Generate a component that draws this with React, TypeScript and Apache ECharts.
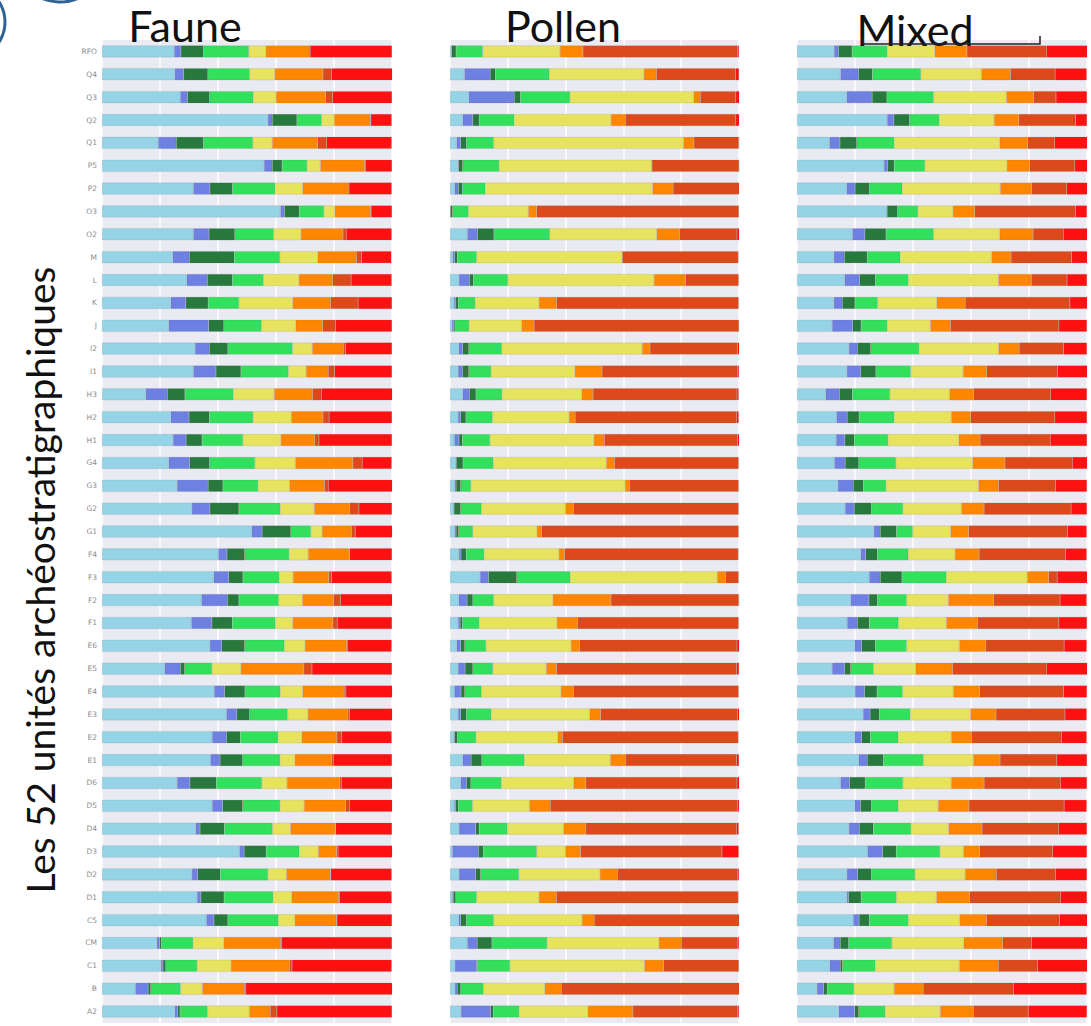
import React, { useEffect, useRef } from "react";
import * as echarts from "echarts";

const categories = [
  "RFO", "Q4", "Q3", "Q2", "Q1", "P5", "P2", "O3", "O2", "M", "L", "K", "J", "I2", "I1",
  "H3", "H2", "H1", "G4", "G3", "G2", "G1", "F4", "F3", "F2", "F1", "E6", "E5", "E4", "E3",
  "E2", "E1", "D6", "D5", "D4", "D3", "D2", "D1", "C5", "CM", "C1", "B", "A2",
];

const panelTitles = ["Faune", "Pollen", "Mixed"];
const yAxisTitle = "Les 52 unités archéostratigraphiques";

const classNames = ["c1", "c2", "c3", "c4", "c5", "c6", "c7", "c8"];
const classColors = ["#94D4E6", "#6E80E2", "#27793E", "#33E05C", "#E7E35F", "#FF8700", "#DC4A1B", "#FF1111"];

// each row: 8 class shares (%) in the category order above
const fauneRows = [
  [24.9, 2.3, 7.8, 15.6, 5.9, 15.3, 0, 28.2],
  [25.1, 3.1, 8.3, 14.4, 8.7, 16.6, 2.9, 21.0],
  [27.0, 2.5, 7.6, 15.1, 7.8, 17.1, 2.4, 20.5],
  [57.2, 1.5, 8.5, 8.5, 4.4, 12.4, 0.2, 7.2],
  [19.4, 6.2, 9.4, 17.0, 6.7, 15.7, 3.1, 22.4],
  [55.9, 2.8, 3.4, 8.6, 4.6, 15.3, 0.3, 9.1],
  [31.5, 5.7, 7.8, 14.7, 9.5, 16.0, 0, 14.7],
  [61.5, 1.4, 5.1, 8.5, 3.8, 12.3, 0.2, 7.2],
  [31.5, 5.4, 8.9, 13.4, 9.4, 14.5, 1.1, 15.7],
  [24.4, 5.7, 15.5, 15.7, 13.1, 13.3, 1.8, 10.3],
  [29.2, 7.1, 8.7, 10.7, 12.2, 11.6, 6.4, 14.0],
  [23.7, 5.2, 7.7, 10.6, 18.6, 13.0, 9.5, 11.7],
  [23.0, 13.8, 5.2, 13.0, 11.8, 9.3, 4.5, 19.4],
  [32.1, 4.9, 6.4, 22.3, 6.8, 10.7, 0.8, 16.0],
  [31.5, 7.8, 8.6, 16.4, 6.1, 7.6, 2.2, 19.8],
  [15.1, 7.4, 6.1, 16.7, 14.1, 13.2, 3.0, 24.5],
  [23.7, 6.3, 7.0, 15.1, 13.2, 10.9, 2.1, 21.7],
  [24.5, 4.5, 5.5, 14.1, 13.1, 11.6, 1.5, 25.2],
  [23.0, 7.2, 6.9, 15.6, 14.0, 19.8, 3.2, 10.2],
  [25.9, 10.7, 5.1, 12.1, 10.9, 12.0, 1.3, 22.2],
  [31.0, 6.2, 10.0, 14.3, 11.7, 12.2, 3.2, 11.4],
  [51.6, 3.6, 9.9, 6.9, 3.9, 10.1, 1.3, 12.8],
  [40.1, 3.0, 6.1, 15.3, 6.6, 14.1, 0.2, 14.6],
  [38.5, 5.2, 4.9, 12.5, 4.8, 12.3, 1.0, 20.7],
  [34.3, 8.9, 4.0, 13.7, 8.2, 10.7, 2.5, 17.8],
  [30.8, 7.1, 7.0, 14.9, 6.0, 13.8, 1.5, 18.9],
  [37.2, 4.1, 7.9, 13.7, 7.1, 14.4, 0.2, 15.3],
  [21.6, 5.4, 1.5, 9.4, 10.0, 21.7, 2.8, 27.6],
  [38.7, 3.6, 7.0, 12.2, 7.7, 14.3, 0.6, 16.0],
  [42.9, 3.6, 4.4, 13.1, 7.0, 13.8, 0.5, 14.8],
  [38.0, 4.9, 4.8, 13.0, 8.2, 12.1, 1.7, 17.2],
  [37.4, 3.3, 7.8, 12.9, 5.1, 12.6, 0.6, 20.3],
  [25.9, 4.4, 9.1, 15.7, 8.7, 18.2, 0.5, 17.6],
  [38.0, 3.6, 6.9, 12.9, 8.3, 14.3, 1.3, 14.8],
  [32.3, 1.5, 8.4, 16.6, 6.2, 15.4, 0.2, 19.4],
  [47.4, 1.6, 7.6, 11.4, 6.6, 6.3, 0.5, 18.7],
  [31.0, 2.0, 7.8, 16.4, 6.4, 15.1, 0.2, 21.0],
  [32.8, 1.3, 8.0, 16.9, 6.4, 16.2, 0.3, 18.0],
  [36.0, 2.6, 4.8, 17.4, 5.7, 14.3, 0.2, 19.0],
  [18.9, 0.9, 0.7, 10.9, 10.6, 19.5, 0.5, 38.0],
  [20.3, 0.7, 1.0, 10.8, 11.7, 20.1, 0.9, 34.4],
  [11.5, 4.4, 0.9, 10.3, 7.5, 14.5, 0.5, 50.5],
  [25.1, 1.0, 0.8, 9.5, 14.4, 7.2, 2.3, 39.7],
];

const pollenRows = [
  [0.6, 0, 1.5, 9.2, 26.8, 7.9, 53.4, 0.6],
  [5.0, 8.9, 1.8, 18.7, 32.7, 4.3, 27.4, 1.2],
  [6.5, 15.7, 2.2, 17.1, 42.8, 2.3, 12.3, 1.2],
  [4.4, 3.5, 2.2, 12.1, 33.5, 5.0, 38.2, 1.2],
  [2.3, 1.4, 2.0, 9.4, 65.7, 3.6, 15.5, 0.2],
  [3.0, 0, 1.4, 12.6, 52.9, 0, 30.1, 0],
  [1.6, 1.3, 1.4, 7.9, 57.9, 7.1, 22.9, 0],
  [0.2, 0, 0.7, 5.5, 20.7, 2.9, 69.9, 0],
  [6.0, 3.5, 5.7, 19.3, 37.0, 7.9, 19.9, 0.8],
  [0.9, 0.7, 0.9, 6.7, 50.5, 0, 40.0, 0.2],
  [3.1, 3.6, 1.4, 11.9, 50.6, 10.9, 18.3, 0.2],
  [1.4, 0.6, 0.9, 5.8, 22.1, 6.1, 62.9, 0.2],
  [0.7, 0.5, 0.5, 4.9, 18.2, 4.3, 70.9, 0.2],
  [3.0, 1.4, 2.1, 11.4, 48.6, 2.7, 30.3, 0.6],
  [2.8, 1.5, 2.2, 7.7, 29.0, 9.4, 46.8, 0.6],
  [4.4, 2.3, 2.3, 9.0, 27.6, 3.9, 49.8, 0.6],
  [2.8, 0.9, 1.8, 9.2, 26.5, 2.1, 55.8, 0.8],
  [1.5, 1.6, 1.2, 9.5, 36.0, 3.6, 46.1, 0.6],
  [2.2, 0, 2.3, 10.5, 39.1, 2.8, 42.9, 0.2],
  [1.6, 0.5, 1.6, 3.5, 53.4, 1.5, 37.7, 0.2],
  [1.4, 0, 2.3, 7.2, 29.0, 2.8, 57.1, 0.2],
  [1.6, 0.5, 0.9, 4.9, 22.2, 1.6, 68.1, 0.2],
  [3.1, 0.7, 1.8, 6.2, 25.9, 2.0, 60.0, 0.2],
  [10.4, 2.9, 9.8, 18.5, 50.9, 2.8, 4.5, 0.2],
  [3.0, 2.9, 2.0, 7.2, 20.5, 20.1, 44.2, 0.2],
  [2.8, 0.7, 0.8, 5.8, 26.9, 7.1, 55.7, 0.2],
  [2.3, 1.4, 1.4, 7.3, 29.5, 2.9, 54.5, 0.8],
  [2.8, 2.4, 2.7, 6.9, 18.5, 3.6, 62.3, 0.8],
  [1.5, 2.3, 1.3, 5.8, 27.5, 4.3, 57.1, 0.2],
  [2.8, 0.9, 2.0, 8.6, 34.0, 3.8, 47.4, 0.6],
  [1.3, 0.3, 1.0, 6.4, 28.3, 1.6, 60.8, 0.2],
  [4.4, 2.9, 3.7, 14.7, 29.8, 5.2, 38.5, 0.8],
  [3.7, 2.0, 1.5, 10.6, 25.0, 4.2, 52.3, 0.8],
  [1.5, 0.5, 0.9, 4.9, 19.7, 7.2, 64.9, 0.6],
  [3.1, 5.8, 1.2, 9.8, 19.4, 7.7, 52.1, 0.8],
  [0.8, 9.0, 1.7, 18.5, 9.9, 5.3, 48.9, 5.8],
  [3.1, 5.8, 1.7, 13.2, 28.1, 6.0, 41.5, 0.6],
  [0.8, 0.3, 0.9, 7.2, 21.6, 6.0, 62.9, 0.2],
  [3.0, 0.7, 2.0, 9.4, 30.6, 4.2, 50.2, 0],
  [6.0, 3.4, 5.1, 19.1, 38.7, 7.7, 19.4, 0.6],
  [1.7, 7.5, 0.3, 11.2, 46.6, 6.6, 26.0, 0],
  [1.7, 0.8, 1.2, 7.9, 21.2, 5.7, 61.6, 0],
  [3.8, 10.3, 0.9, 8.9, 23.8, 15.6, 36.1, 0.6],
];

const mixedRows = [
  [12.8, 1.5, 4.7, 12.1, 16.4, 11.1, 27.4, 14.1],
  [15.0, 6.2, 4.8, 16.7, 20.9, 10.0, 15.4, 10.9],
  [17.1, 8.8, 5.1, 16.1, 25.1, 9.4, 7.7, 10.7],
  [31.1, 2.3, 5.4, 10.3, 18.9, 8.5, 19.5, 4.0],
  [11.2, 3.6, 5.8, 12.9, 36.4, 9.6, 9.3, 11.3],
  [30.0, 1.3, 2.2, 10.6, 28.3, 7.8, 15.6, 4.3],
  [17.1, 2.9, 5.0, 11.3, 33.8, 10.8, 12.1, 7.1],
  [31.1, 0, 3.6, 7.0, 12.1, 7.5, 34.8, 3.9],
  [19.1, 4.3, 7.3, 16.4, 22.8, 11.5, 10.4, 8.3],
  [12.7, 3.6, 7.9, 11.4, 31.5, 6.7, 20.9, 5.4],
  [16.4, 5.2, 5.4, 11.4, 31.1, 11.3, 12.3, 6.9],
  [12.7, 2.9, 4.4, 7.8, 20.4, 9.8, 36.1, 6.0],
  [12.1, 7.1, 2.9, 9.0, 14.9, 6.9, 37.4, 9.7],
  [17.9, 2.9, 4.6, 16.7, 27.4, 7.1, 15.3, 8.1],
  [17.2, 4.8, 5.2, 12.0, 18.1, 8.1, 24.4, 10.3],
  [9.9, 4.7, 4.5, 12.9, 20.6, 8.3, 26.5, 12.6],
  [13.6, 3.7, 4.1, 12.1, 19.7, 6.7, 29.0, 11.1],
  [13.5, 3.0, 3.3, 11.6, 24.4, 7.3, 24.2, 12.7],
  [12.9, 3.7, 4.7, 12.8, 26.5, 11.1, 23.2, 5.2],
  [14.1, 5.3, 3.5, 7.8, 31.9, 6.9, 19.6, 10.9],
  [16.6, 3.1, 6.0, 10.8, 20.2, 7.8, 30.0, 5.5],
  [26.5, 2.2, 5.6, 5.6, 13.1, 6.2, 34.1, 6.6],
  [22.0, 1.7, 4.0, 10.7, 16.1, 8.3, 29.8, 7.3],
  [24.9, 3.8, 7.5, 15.3, 27.9, 7.4, 2.9, 10.4],
  [18.5, 6.3, 2.9, 10.1, 14.4, 15.6, 22.9, 9.2],
  [17.3, 3.5, 4.1, 10.1, 16.5, 10.7, 28.1, 9.7],
  [19.9, 2.4, 4.7, 10.8, 18.2, 9.1, 27.0, 7.8],
  [12.1, 4.3, 2.1, 7.9, 14.5, 12.7, 32.4, 14.1],
  [20.0, 3.3, 4.3, 8.8, 17.5, 9.1, 28.9, 8.1],
  [22.8, 2.4, 3.2, 10.7, 20.7, 8.8, 23.8, 7.5],
  [19.9, 2.4, 3.0, 9.6, 18.3, 6.9, 31.2, 8.6],
  [21.3, 2.9, 5.6, 13.8, 17.2, 9.2, 19.6, 10.4],
  [15.0, 3.1, 5.4, 13.0, 16.7, 11.3, 26.3, 9.2],
  [19.9, 2.0, 3.8, 9.2, 13.8, 10.6, 32.8, 7.8],
  [17.9, 3.6, 4.8, 13.0, 13.0, 11.5, 26.3, 9.9],
  [24.3, 5.2, 4.7, 15.1, 8.1, 5.6, 25.1, 11.9],
  [17.2, 3.7, 4.8, 15.0, 17.3, 10.7, 20.5, 10.8],
  [17.2, 0.6, 4.3, 12.2, 13.8, 11.4, 31.3, 9.2],
  [19.4, 2.0, 3.5, 13.5, 17.7, 9.2, 25.2, 9.6],
  [12.6, 2.3, 2.9, 14.9, 24.8, 13.4, 9.9, 19.4],
  [11.3, 3.6, 0.8, 11.3, 29.0, 13.4, 13.6, 17.1],
  [6.9, 2.3, 1.3, 9.1, 13.9, 10.0, 31.1, 25.3],
  [14.4, 5.5, 1.4, 9.1, 19.0, 11.4, 18.9, 20.3],
];

const xTicks = [0, 20, 40, 60, 80, 100];

export default function App() {
  const ref = useRef<HTMLDivElement>(null);

  useEffect(() => {
    document.body.style.margin = "0";
    if (!ref.current) return;
    const chart = echarts.init(ref.current, undefined, { renderer: "svg" });

    const panels = [fauneRows, pollenRows, mixedRows];
    const gridLefts = [102, 450, 797];
    const gridWidths = [290, 289, 290];

    const grids = panels.map((_, i) => ({
      left: gridLefts[i],
      width: gridWidths[i],
      top: 40,
      height: 983,
      show: true,
      backgroundColor: "#EAEAF2",
      borderWidth: 0,
    }));

    const xAxes = panels.map((_, i) => ({
      type: "value",
      gridIndex: i,
      min: xTicks[0],
      max: xTicks[xTicks.length - 1],
      interval: xTicks[1] - xTicks[0],
      axisLabel: { show: false },
      axisLine: { show: false },
      axisTick: { show: false },
      splitLine: { show: true, lineStyle: { color: "#FFFFFF", width: 1.5 } },
    }));

    const yAxes = panels.map((_, i) => ({
      type: "category",
      gridIndex: i,
      data: categories,
      inverse: true,
      axisLine: { show: false },
      axisTick: { show: false },
      splitLine: { show: false },
      axisLabel: {
        show: i === 0,
        fontSize: 7.5,
        color: "#8C8C8C",
        margin: 5,
        fontFamily: "DejaVu Sans",
      },
    }));

    const series: any[] = [];
    panels.forEach((rows, p) => {
      classNames.forEach((name, k) => {
        series.push({
          type: "bar",
          name: `${panelTitles[p]} ${name}`,
          xAxisIndex: p,
          yAxisIndex: p,
          stack: `panel${p}`,
          barWidth: 12,
          data: rows.map((r) => r[k]),
          itemStyle: {
            color: classColors[k],
            borderColor: "rgba(70,70,70,0.22)",
            borderWidth: 0.5,
          },
          emphasis: { disabled: true },
        });
      });
    });

    const titleXs = [185, 563, 915];
    const titleYs = [25, 25, 29];

    const graphic: any[] = [
      ...panelTitles.map((t, i) => ({
        type: "text",
        x: titleXs[i],
        y: titleYs[i],
        z: 10,
        style: {
          text: t,
          font: "43px Lato",
          fill: "#111111",
          textAlign: "center",
          textVerticalAlign: "middle",
        },
      })),
      {
        type: "rect",
        z: 20,
        shape: { x: 495, y: 0, width: 140, height: 10 },
        style: { fill: "#FFFFFF" },
      },
      {
        type: "polyline",
        z: 20,
        shape: { points: [[863, 36], [863, 44], [1040, 44], [1040, 36]] },
        style: { stroke: "#222222", lineWidth: 1.5, fill: "none" },
      },
      {
        type: "text",
        x: 40,
        y: 580,
        rotation: Math.PI / 2,
        z: 10,
        style: {
          text: yAxisTitle,
          font: "39px Lato",
          fill: "#111111",
          textAlign: "center",
          textVerticalAlign: "middle",
        },
      },
      {
        type: "circle",
        z: 20,
        shape: { cx: -32, cy: 22, r: 37 },
        style: { fill: "none", stroke: "#2E6394", lineWidth: 3 },
      },
      {
        type: "circle",
        z: 20,
        shape: { cx: 60, cy: -45, r: 47 },
        style: { fill: "none", stroke: "#2E6394", lineWidth: 3 },
      },
    ];

    chart.setOption({
      animation: false,
      grid: grids,
      xAxis: xAxes,
      yAxis: yAxes,
      series,
      graphic,
    });

    return () => {
      chart.dispose();
    };
  }, []);

  return (
    <div
      ref={ref}
      style={{ position: "absolute", left: 0, top: 0, width: 1091, height: 1026, background: "#FFFFFF" }}
    />
  );
}
